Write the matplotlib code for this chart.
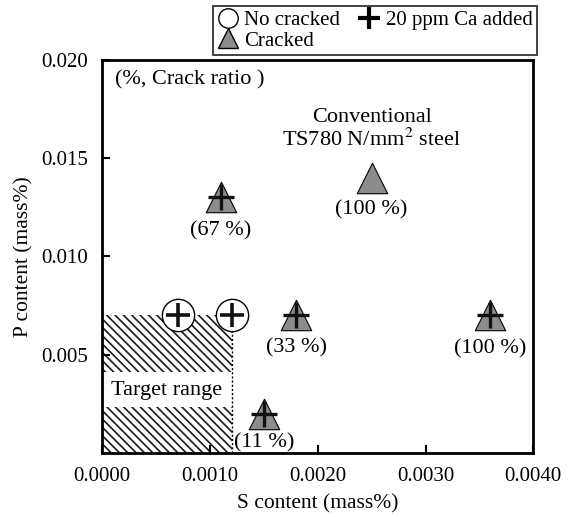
import matplotlib

matplotlib.use("Agg")
import matplotlib.pyplot as plt  # noqa: E402
from matplotlib.patches import Rectangle  # noqa: E402
from matplotlib.lines import Line2D  # noqa: E402

plt.rcParams["font.family"] = ["Liberation Serif", "DejaVu Serif"]
plt.rcParams["mathtext.fontset"] = "stix"
plt.rcParams["hatch.linewidth"] = 1.2
plt.rcParams["hatch.color"] = "#1a1a1a"

# uncracked, Ca added
circle_s = [0.0007, 0.0012]
circle_p = [0.007, 0.007]

# cracked, Ca added
tri_s = [0.0011, 0.0018, 0.0036, 0.0015]
tri_p = [0.013, 0.007, 0.007, 0.002]
tri_labels = ["(67 %)", "(33 %)", "(100 %)", "(11 %)"]
tri_label_dy = [0.00168, 0.00165, 0.00168, 0.00148]

# conventional steel
conv_s = [0.0025]
conv_p = [0.014]
conv_labels = ["(100 %)"]

# target range box
target_s = 0.0012
target_p = 0.007
gap_lo, gap_hi = 0.00234, 0.00412

FS = 16

fig = plt.figure(figsize=(5.71, 5.17), dpi=100)
ax = fig.add_axes([0.179, 0.124, 0.755, 0.76])

ax.add_patch(Rectangle((0, 0), target_s, target_p, facecolor="white",
                       edgecolor="#1a1a1a", hatch="\\" * 4, linewidth=0, zorder=1))
ax.add_patch(Rectangle((0, gap_lo), target_s, gap_hi - gap_lo, facecolor="white",
                       edgecolor="none", zorder=2))
ax.plot([target_s, target_s], [0, target_p], color="black", linestyle=(0, (1.5, 1.5)),
        linewidth=1, zorder=2)
ax.text(target_s / 2, (gap_lo + gap_hi) / 2 - 0.00005, "Target range", ha="center",
        va="center", fontsize=FS, zorder=3)

ax.scatter(circle_s, circle_p, s=540, facecolor="white", edgecolor="black",
           linewidth=1, zorder=4)
ax.scatter(circle_s, circle_p, s=320, marker="+", color="#111111", linewidth=2.6, zorder=5)

ax.scatter(tri_s, tri_p, s=480, marker="^", facecolor="#8c8c8c", edgecolor="black",
           linewidth=0.8, zorder=4)
ax.scatter(tri_s, tri_p, s=330, marker="+", color="#111111", linewidth=2.4, zorder=5)
for s, p, lab, dy in zip(tri_s, tri_p, tri_labels, tri_label_dy):
    ax.text(s, p - dy, lab, ha="center", va="center", fontsize=FS, zorder=6)

ax.scatter(conv_s, conv_p, s=480, marker="^", facecolor="#8c8c8c", edgecolor="black",
           linewidth=0.8, zorder=4)
for s, p, lab in zip(conv_s, conv_p, conv_labels):
    ax.text(s, p - 0.00165, lab, ha="center", va="center", fontsize=FS, zorder=6)

ax.text(0.0025, 0.01646, "Conventional\nTS780 N/mm$^2$ steel", ha="center",
        va="center", fontsize=FS, linespacing=1.1)
ax.text(0.00012, 0.01898, "(%, Crack ratio )", ha="left", va="center", fontsize=FS)

ax.set_xlim(0, 0.004)
ax.set_ylim(0, 0.020)
ax.set_xticks([0, 0.001, 0.002, 0.003, 0.004])
ax.set_xticklabels(["0.0000", "0.0010", "0.0020", "0.0030", "0.0040"])
ax.set_yticks([0.005, 0.010, 0.015, 0.020])
ax.set_yticklabels(["0.005", "0.010", "0.015", "0.020"])
ax.tick_params(direction="in", length=6, width=1.5, labelsize=15, pad=10)
for sp in ax.spines.values():
    sp.set_linewidth(2)
ax.set_xlabel("S content (mass%)", fontsize=15.5, labelpad=6)
ax.set_ylabel("P content (mass%)", fontsize=15.5, labelpad=6)

leg = fig.legend(
    [Line2D([], [], marker="o", linestyle="none", markerfacecolor="white",
            markeredgecolor="black", markersize=14),
     Line2D([], [], marker="^", linestyle="none", markerfacecolor="#8c8c8c",
            markeredgecolor="black", markersize=14),
     Line2D([], [], marker="+", linestyle="none", color="black", markersize=16,
            markeredgewidth=3)],
    ["No cracked", "Cracked", "20 ppm Ca added"],
    ncol=2, loc="upper left", bbox_to_anchor=(0.373, 0.988), fontsize=15,
    frameon=True, fancybox=False, edgecolor="black", handletextpad=0.3,
    handlelength=1.0, columnspacing=0.9, borderpad=0.2, borderaxespad=0.0,
    labelspacing=0.05)
leg.get_frame().set_linewidth(1.3)

fig.savefig("out.png", dpi=100)
